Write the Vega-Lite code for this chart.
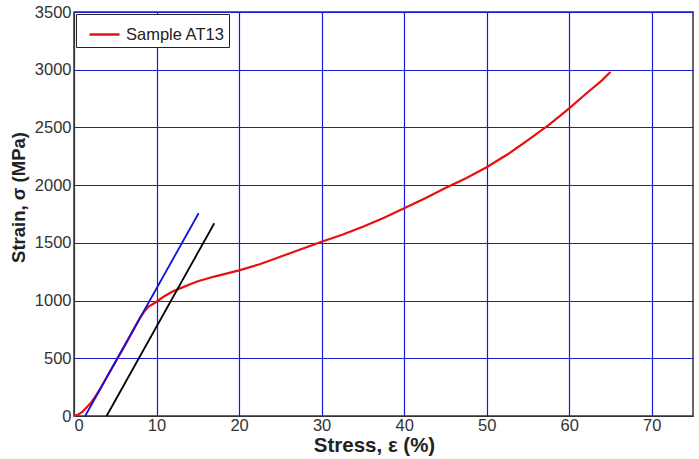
{
  "$schema": "https://vega.github.io/schema/vega-lite/v6.json",
  "width": 619,
  "height": 404,
  "autosize": {"type": "none"},
  "padding": {"left": 74, "top": 12, "right": 6, "bottom": 43},
  "background": "white",
  "config": {
    "font": "Liberation Sans",
    "view": {"stroke": "#333333", "strokeWidth": 1.5},
    "axis": {
      "grid": true,
      "gridColor": "#1a1ad6",
      "gridWidth": 1.2,
      "gridOpacity": 1,
      "domainColor": "#333333",
      "ticks": false,
      "labelFontSize": 16.5,
      "labelColor": "#333333",
      "labelFont": "Liberation Sans",
      "titleFont": "Liberation Sans",
      "titleFontWeight": "bold",
      "titleColor": "#222222"
    }
  },
  "datasets": {
    "red": [
      {"x": 0, "y": 0, "s": "Sample AT13"},
      {"x": 0.5, "y": 12, "s": "Sample AT13"},
      {"x": 1, "y": 35, "s": "Sample AT13"},
      {"x": 2, "y": 110, "s": "Sample AT13"},
      {"x": 2.5, "y": 160, "s": "Sample AT13"},
      {"x": 3, "y": 215, "s": "Sample AT13"},
      {"x": 4, "y": 340, "s": "Sample AT13"},
      {"x": 5, "y": 465, "s": "Sample AT13"},
      {"x": 6, "y": 590, "s": "Sample AT13"},
      {"x": 7, "y": 720, "s": "Sample AT13"},
      {"x": 8, "y": 850, "s": "Sample AT13"},
      {"x": 8.5, "y": 905, "s": "Sample AT13"},
      {"x": 9, "y": 945, "s": "Sample AT13"},
      {"x": 10, "y": 990, "s": "Sample AT13"},
      {"x": 11, "y": 1040, "s": "Sample AT13"},
      {"x": 12, "y": 1080, "s": "Sample AT13"},
      {"x": 13, "y": 1110, "s": "Sample AT13"},
      {"x": 14, "y": 1140, "s": "Sample AT13"},
      {"x": 15, "y": 1168, "s": "Sample AT13"},
      {"x": 17, "y": 1208, "s": "Sample AT13"},
      {"x": 20, "y": 1262, "s": "Sample AT13"},
      {"x": 22.5, "y": 1315, "s": "Sample AT13"},
      {"x": 25, "y": 1380, "s": "Sample AT13"},
      {"x": 27.5, "y": 1445, "s": "Sample AT13"},
      {"x": 30, "y": 1510, "s": "Sample AT13"},
      {"x": 32.5, "y": 1570, "s": "Sample AT13"},
      {"x": 35, "y": 1640, "s": "Sample AT13"},
      {"x": 37.5, "y": 1715, "s": "Sample AT13"},
      {"x": 40, "y": 1800, "s": "Sample AT13"},
      {"x": 42.5, "y": 1885, "s": "Sample AT13"},
      {"x": 45, "y": 1975, "s": "Sample AT13"},
      {"x": 47.5, "y": 2060, "s": "Sample AT13"},
      {"x": 50, "y": 2155, "s": "Sample AT13"},
      {"x": 52.5, "y": 2265, "s": "Sample AT13"},
      {"x": 55, "y": 2390, "s": "Sample AT13"},
      {"x": 57.5, "y": 2520, "s": "Sample AT13"},
      {"x": 60, "y": 2665, "s": "Sample AT13"},
      {"x": 62, "y": 2790, "s": "Sample AT13"},
      {"x": 64, "y": 2910, "s": "Sample AT13"},
      {"x": 65, "y": 2980, "s": "Sample AT13"}
    ],
    "blue": [
      {"x": 1.35, "y": 0},
      {"x": 15.1, "y": 1757}
    ],
    "black": [
      {"x": 3.95, "y": 0},
      {"x": 17, "y": 1670}
    ]
  },
  "layer": [
    {
      "data": {"name": "red"},
      "mark": {"type": "line", "strokeWidth": 2.2},
      "encoding": {
        "x": {
          "field": "x", "type": "quantitative",
          "scale": {"domain": [0, 75], "nice": false},
          "axis": {"values": [0, 10, 20, 30, 40, 50, 60, 70], "format": "d", "title": "Stress, ε (%)", "titleFontSize": 20.5, "titlePadding": 2, "labelPadding": 1, "titleX": 300}
        },
        "y": {
          "field": "y", "type": "quantitative",
          "scale": {"domain": [0, 3500], "nice": false},
          "axis": {"values": [0, 500, 1000, 1500, 2000, 2500, 3000, 3500], "format": "d", "title": "Strain, σ (MPa)", "titleFontSize": 18.5, "titlePadding": 6, "labelPadding": 3, "titleY": 185}
        },
        "color": {
          "field": "s", "type": "nominal",
          "scale": {"domain": ["Sample AT13"], "range": ["#e8100f"]},
          "legend": {
            "title": null,
            "orient": "top-left",
            "offset": 2,
            "strokeColor": "#222222",
            "fillColor": "white",
            "padding": 4,
            "symbolType": "stroke",
            "symbolStrokeWidth": 2.5,
            "symbolSize": 900,
            "symbolOffset": 8,
            "labelOffset": 5,
            "labelFontSize": 16.5,
            "labelColor": "#222222",
            "labelFont": "Liberation Sans"
          }
        }
      }
    },
    {
      "data": {"name": "blue"},
      "mark": {"type": "line", "color": "#1010e0", "strokeWidth": 1.8},
      "encoding": {
        "x": {"field": "x", "type": "quantitative"},
        "y": {"field": "y", "type": "quantitative"}
      }
    },
    {
      "data": {"name": "black"},
      "mark": {"type": "line", "color": "#000000", "strokeWidth": 1.8},
      "encoding": {
        "x": {"field": "x", "type": "quantitative"},
        "y": {"field": "y", "type": "quantitative"}
      }
    }
  ]
}
